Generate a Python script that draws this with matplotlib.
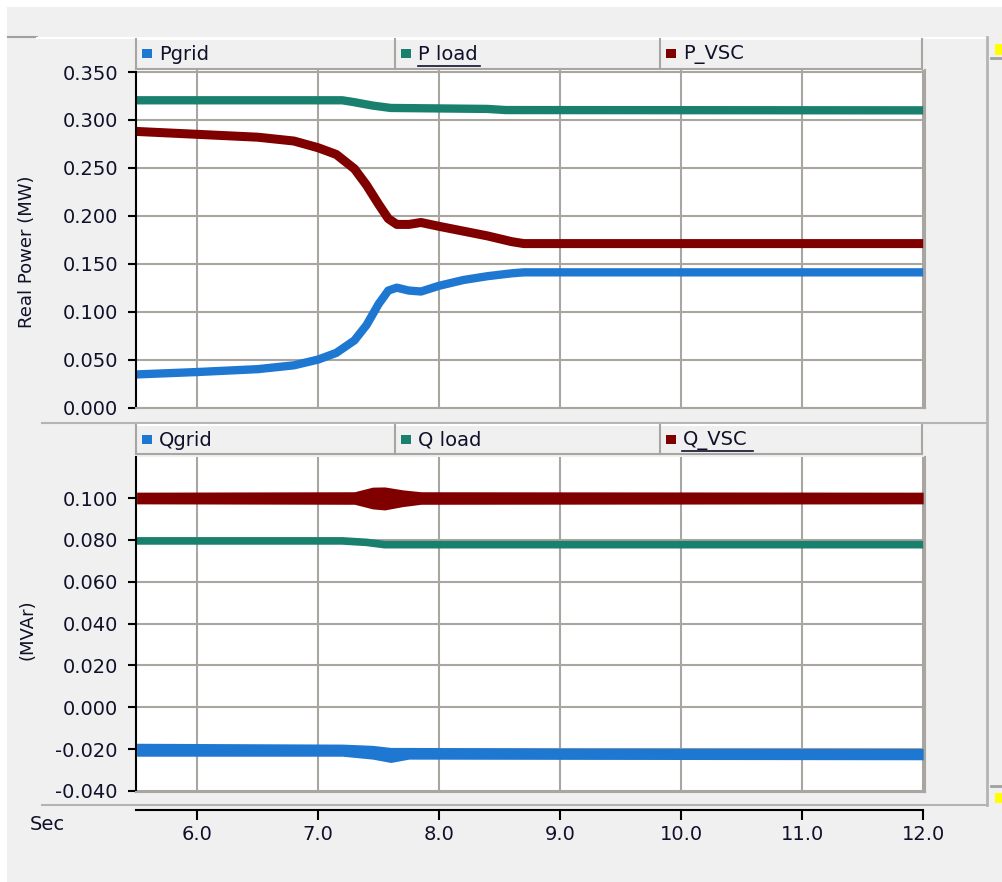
import numpy as np
import matplotlib
matplotlib.use('Agg')
from matplotlib import pyplot as plt
from matplotlib.patches import Rectangle
from matplotlib.lines import Line2D

# --- data ---
t_p = [5.5, 6.0, 6.5, 6.8, 7.0, 7.15, 7.3, 7.4, 7.5, 7.58, 7.65, 7.75,
       7.85, 8.0, 8.2, 8.4, 8.6, 8.7, 12.0]
p_vsc = [0.288, 0.285, 0.282, 0.278, 0.271, 0.264, 0.249, 0.232, 0.212,
         0.197, 0.191, 0.191, 0.193, 0.189, 0.184, 0.179, 0.173, 0.171, 0.171]
p_grid = [0.0345, 0.037, 0.040, 0.044, 0.050, 0.057, 0.070, 0.086, 0.108,
          0.122, 0.125, 0.122, 0.121, 0.127, 0.133, 0.137, 0.140, 0.141, 0.141]
t_pload = [5.5, 7.2, 7.3, 7.45, 7.6, 8.4, 8.55, 12.0]
p_load = [0.3205, 0.3205, 0.3185, 0.3150, 0.3125, 0.3115, 0.3103, 0.3100]

t_qload = [5.5, 7.2, 7.4, 7.55, 12.0]
q_load = [0.0795, 0.0795, 0.0788, 0.0777, 0.0777]
t_qvsc = [5.5, 7.3, 7.45, 7.55, 7.7, 7.85, 12.0]
q_vsc = [0.1000, 0.1000, 0.1000, 0.0998, 0.0999, 0.1000, 0.1000]
q_vsc_spread = [0.0028, 0.0030, 0.0052, 0.0055, 0.0040, 0.0030, 0.0028]
t_qgrid = [5.5, 7.2, 7.45, 7.6, 7.75, 9.0, 12.0]
q_grid = [-0.0203, -0.0205, -0.0215, -0.0228, -0.0220, -0.0222, -0.0224]
q_grid_spread = [0.0031, 0.0029, 0.0033, 0.0036, 0.0028, 0.0027, 0.0027]

top_names = ['Pgrid', 'P load', 'P_VSC']
bot_names = ['Qgrid', 'Q load', 'Q_VSC']
c_grid, c_load, c_vsc = '#1e78d2', '#18806c', '#800000'

W, H = 1002, 882
BG = '#f0f0f0'
GRID = '#a9a5a1'
TXT = '#10102a'
FS = 14


def box(x0, y0, x1, y1):
    return [x0 / W, 1 - y1 / H, (x1 - x0) / W, (y1 - y0) / H]


def fx(x):
    return x / W


def fy(y):
    return 1 - y / H


def hline(fig, x0, x1, y, color, lw=1.5):
    fig.add_artist(Line2D([fx(x0), fx(x1)], [fy(y), fy(y)], color=color, lw=lw,
                          transform=fig.transFigure))


def vline(fig, x, y0, y1, color, lw=1.5):
    fig.add_artist(Line2D([fx(x), fx(x)], [fy(y0), fy(y1)], color=color, lw=lw,
                          transform=fig.transFigure))


def legend_bar(fig, y0, y1, names, underline):
    cells = [(136, 395), (395, 660), (660, 922)]
    fig.add_artist(Rectangle((fx(136), fy(y1)), fx(922) - fx(136), fy(y0) - fy(y1),
                             facecolor=BG, edgecolor='none', transform=fig.transFigure))
    hline(fig, 136, 922, y0, 'white', 1.5)
    hline(fig, 136, 922, y1, GRID, 1.5)
    for (a, b), name, col in zip(cells, names, [c_grid, c_load, c_vsc]):
        vline(fig, a, y0, y1, GRID, 1.5)
        ym = (y0 + y1) / 2
        fig.add_artist(Rectangle((fx(a + 6), fy(ym + 4)), 10 / W, 9 / H, facecolor=col,
                                 edgecolor='none', transform=fig.transFigure))
        fig.text(fx(a + 23), fy(ym + 1), name, fontsize=FS, color=TXT,
                 ha='left', va='center')
    vline(fig, 922, y0, y1, GRID, 1.5)
    for (a, b) in underline:
        hline(fig, a, b, y1 - 3, TXT, 1.2)


def style_panel(ax, yticks, ylim):
    ax.set_facecolor('white')
    ax.set_xlim(5.495, 12.015)
    ax.set_ylim(*ylim)
    ax.set_xticks(np.arange(6, 12.01, 1.0))
    ax.set_yticks(yticks)
    ax.set_yticklabels(['%.3f' % v for v in yticks])
    ax.grid(True, color=GRID, lw=1.5)
    ax.set_axisbelow(True)
    ax.tick_params(axis='x', length=0, labelbottom=False)
    ax.tick_params(axis='y', direction='out', length=6, width=1.5, color='black',
                   labelsize=FS, labelcolor=TXT, pad=7)
    ax.spines['left'].set_color('black')
    ax.spines['left'].set_linewidth(1.5)
    ax.spines['top'].set_visible(False)
    for s in ['right', 'bottom']:
        ax.spines[s].set_color(GRID)
        ax.spines[s].set_linewidth(1.5)


fig = plt.figure(figsize=(W / 100, H / 100), dpi=100, facecolor=BG)

# window frame bits
fig.add_artist(Rectangle((0, fy(7)), 1, 7 / H, facecolor='white', edgecolor='none',
                         transform=fig.transFigure))
fig.add_artist(Rectangle((0, 0), 7 / W, 1, facecolor='white', edgecolor='none',
                         transform=fig.transFigure))
hline(fig, 8, 37, 37, '#a0a0a0', 1.5)
hline(fig, 37, 986, 38, 'white', 1.5)
vline(fig, 987, 37, 805, '#b4b4b4', 2)
hline(fig, 42, 986, 423, '#b4b4b4', 1.5)
hline(fig, 42, 986, 805, '#b4b4b4', 1.5)
fig.add_artist(Rectangle((fx(995), fy(55)), 8 / W, 11 / H, facecolor='#ffff00',
                         edgecolor='none', transform=fig.transFigure))
fig.add_artist(Rectangle((fx(995), fy(803)), 8 / W, 10 / H, facecolor='#ffff00',
                         edgecolor='none', transform=fig.transFigure))
hline(fig, 991, 1002, 58, '#a0a0a0', 2)
hline(fig, 991, 1002, 786, '#a0a0a0', 2)

# top panel: real power
ax1 = fig.add_axes(box(136, 70, 925, 407.5))
style_panel(ax1, np.arange(0, 0.351, 0.05), (0.0, 0.3521))
ax1.spines['left'].set_bounds(0, 0.35)
ax1.plot(t_pload, p_load, color=c_load, lw=6.0, solid_capstyle='butt')
ax1.plot(t_p, p_vsc, color=c_vsc, lw=6.5, solid_capstyle='butt')
ax1.plot(t_p, p_grid, color=c_grid, lw=6.0, solid_capstyle='butt')
fig.text(fx(27), fy(252), 'Real Power (MW)', rotation=90, fontsize=13, color=TXT,
         ha='center', va='center')

# bottom panel: reactive power
ax2 = fig.add_axes(box(136, 457, 925, 792))
style_panel(ax2, np.arange(-0.04, 0.101, 0.02), (-0.0405, 0.1196))
ax2.fill_between(t_qvsc, np.array(q_vsc) - np.array(q_vsc_spread),
                 np.array(q_vsc) + np.array(q_vsc_spread), color=c_vsc, lw=0)
ax2.plot(t_qload, q_load, color=c_load, lw=5.5, solid_capstyle='butt')
ax2.fill_between(t_qgrid, np.array(q_grid) - np.array(q_grid_spread),
                 np.array(q_grid) + np.array(q_grid_spread), color=c_grid, lw=0)
fig.text(fx(27), fy(630), '(MVAr)', rotation=90, fontsize=13, color=TXT,
         ha='center', va='center')

legend_bar(fig, 39, 69, top_names, [(418, 480)])
legend_bar(fig, 425, 454, bot_names, [(682, 753)])

# time axis
axx = fig.add_axes(box(136, 809, 925, 810))
axx.set_xlim(5.495, 12.015)
axx.set_facecolor('none')
axx.set_yticks([])
axx.set_xticks(np.arange(6, 12.01, 1.0))
axx.set_xticklabels(['%.1f' % v for v in np.arange(6, 12.01, 1.0)])
for s in ['left', 'right', 'top']:
    axx.spines[s].set_visible(False)
axx.spines['bottom'].set_linewidth(1.5)
axx.spines['bottom'].set_bounds(5.495, 12.0)
axx.tick_params(axis='x', direction='out', length=7, width=1.5, labelsize=FS,
                labelcolor=TXT, pad=4)
fig.text(fx(47), fy(824), 'Sec', fontsize=FS, color=TXT, ha='center', va='center')

fig.savefig('out.png', dpi=100, facecolor=BG)
